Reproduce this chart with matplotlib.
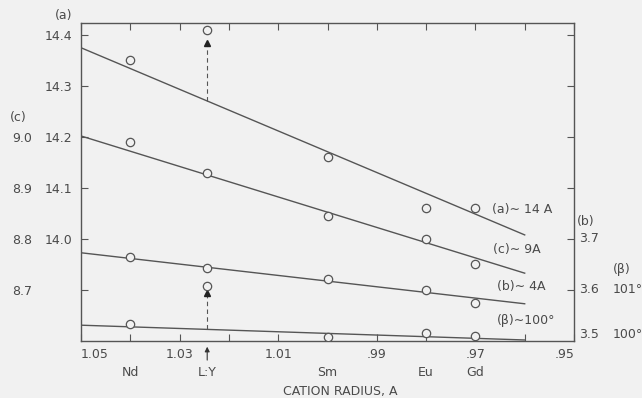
import numpy as np
import matplotlib
matplotlib.use("Agg")
import matplotlib.pyplot as plt
import matplotlib.transforms as mtransforms

# ---------------- data ----------------
elements = ["Nd", "L:Y", "Sm", "Eu", "Gd"]
radius = [1.04, 1.0244, 1.00, 0.98, 0.97]
a_vals = [14.35, 14.41, 14.16, 14.06, 14.06]
c_vals = [8.99, 8.93, 8.845, 8.80, 8.75]
b_vals = [3.665, 3.643, 3.622, 3.600, 3.575]
b_ly_extra = 3.608
beta_radius = [1.04, 1.00, 0.98, 0.97]
beta_vals = [100.33, 100.08, 100.15, 100.10]

line_x = [1.05, 0.96]
a_line = [14.375, 14.008]
c_line = [9.002, 8.733]
b_line = [3.673, 3.573]
beta_line = [100.31, 100.02]

ly_radius = 1.0244
a_arrow = [14.271, 14.385]
b_arrow = [3.523, 3.594]

x_ticks = [1.05, 1.04, 1.03, 1.02, 1.01, 1.00, 0.99, 0.98, 0.97, 0.96, 0.95]
x_labels = {1.05: "1.05", 1.03: "1.03", 1.01: "1.01", 0.99: ".99", 0.97: ".97", 0.95: ".95"}
a_ticks = [13.9, 14.0, 14.1, 14.2, 14.3, 14.4]
a_ticklabels = ["", "14.0", "14.1", "14.2", "14.3", "14.4"]
c_ticks = [8.7, 8.8, 8.9, 9.0]
c_ticklabels = ["8.7", "8.8", "8.9", "9.0"]
b_ticks = [3.6, 3.7, 3.8, 3.9, 4.0, 4.1]
b_labels = [(3.5, "3.5"), (3.6, "3.6"), (3.7, "3.7")]
beta_labels = [(100, "100°"), (101, "101°")]

# ---------------- style ----------------
BG = "#f1f1f1"
LC = "#555555"
TC = "#4a4a4a"
FS = 9
plt.rcParams['font.family'] = ['DejaVu Sans']

fig = plt.figure(figsize=(6.42, 3.98), dpi=100, facecolor=BG)
L, R, B, T = 81 / 642, 574 / 642, 1 - 341 / 398, 1 - 23 / 398
ax = fig.add_axes([L, B, R - L, T - B])
ax.set_facecolor(BG)
ax.set_xlim(1.05, 0.95)
ax.set_ylim(13.8, 14.4235)
for s in ax.spines.values():
    s.set_color(LC)
    s.set_linewidth(1.0)

ax.set_xticks(x_ticks)
ax.set_xticklabels([x_labels.get(round(t, 2), "") for t in x_ticks])
ax.tick_params(axis='x', which='both', direction='in', length=5, top=True,
               color=LC, labelcolor=TC, labelsize=FS, pad=5)
xl = ax.get_xticklabels()
xl[0].set_ha('left')
xl[-1].set_ha('right')
ax.set_yticks(a_ticks)
ax.set_yticklabels(a_ticklabels)
ax.tick_params(axis='y', direction='in', length=5, color=LC, labelcolor=TC,
               labelsize=FS, pad=6)

ax_c = ax.twinx()
ax_c.set_ylim(13.8 - 5.2, 14.4235 - 5.2)
ax_c.yaxis.set_ticks_position('left')
ax_c.spines['left'].set_position(('outward', 34))
for s in ax_c.spines.values():
    s.set_visible(False)
ax_c.set_yticks(c_ticks)
ax_c.set_yticklabels(c_ticklabels)
ax_c.tick_params(axis='y', length=0, labelcolor=TC, labelsize=FS, pad=1)

ax_b = ax.twinx()
ax_b.set_ylim(3.5, 4.1235)
for s in ax_b.spines.values():
    s.set_visible(False)
ax_b.set_yticks(b_ticks)
ax_b.set_yticklabels([])
ax_b.tick_params(axis='y', direction='in', length=5, color=LC)

ax_beta = ax.twinx()
ax_beta.set_ylim(100, 106.235)
ax_beta.set_yticks([])
for s in ax_beta.spines.values():
    s.set_visible(False)

mk = dict(marker='o', ms=6, mfc=BG, mec=LC, mew=0.9, ls='none', zorder=5)
lk = dict(color=LC, lw=1.0)

ax.plot(line_x, a_line, **lk)
ax.plot(radius, a_vals, **mk)
ax_c.plot(line_x, c_line, **lk)
ax_c.plot(radius, c_vals, **mk)
ax_b.plot(line_x, b_line, **lk)
ax_b.plot(radius, b_vals, **mk)
ax_b.plot([ly_radius], [b_ly_extra], **mk)
ax_beta.plot(line_x, beta_line, **lk)
ax_beta.plot(beta_radius, beta_vals, **mk)

# dashed arrows at L:Y
ax.plot([ly_radius, ly_radius], a_arrow, color=LC, lw=0.8, ls=(0, (4, 3)))
ax.plot([ly_radius], [a_arrow[1]], marker='^', ms=4, color='#222222', ls='none')
ax_b.plot([ly_radius, ly_radius], b_arrow, color=LC, lw=0.8, ls=(0, (4, 3)))
ax_b.plot([ly_radius], [b_arrow[1]], marker='^', ms=4, color='#222222', ls='none')

tb = mtransforms.blended_transform_factory(ax.transData, ax.transAxes)
ax.annotate("", xy=(ly_radius, -0.018), xytext=(ly_radius, -0.06),
            xycoords=tb, textcoords=tb, annotation_clip=False,
            arrowprops=dict(arrowstyle='-|>', color='#333333', lw=0.8,
                            mutation_scale=7, shrinkA=0, shrinkB=0))

# element labels
for r, e in zip(radius, elements):
    ax.text(r, -0.10, e, transform=tb, ha='center', va='center',
            fontsize=FS, color=TC, clip_on=False)
fig.text((273 + 407) / 2 / 642, 1 - 391 / 398, "CATION RADIUS, A",
         ha='center', va='center', fontsize=FS, color=TC)

# axis titles
fig.text(72 / 642, 1 - 16 / 398, "(a)", ha='right', va='center', fontsize=FS, color=TC)
fig.text(10 / 642, 1 - 117 / 398, "(c)", ha='left', va='center', fontsize=FS, color=TC)
fig.text(577 / 642, 1 - 221 / 398, "(b)", ha='left', va='center', fontsize=FS, color=TC)
fig.text(613 / 642, 1 - 270 / 398, "(β)", ha='left', va='center', fontsize=FS, color=TC)

tr_b = mtransforms.blended_transform_factory(ax.transAxes, ax_b.transData)
for v, s in b_labels:
    ax_b.text(1.01, v, s, transform=tr_b, ha='left',
              va='bottom' if v == 3.5 else 'center', fontsize=FS, color=TC,
              clip_on=False)
tr_be = mtransforms.blended_transform_factory(ax.transAxes, ax_beta.transData)
for v, s in beta_labels:
    ax_beta.text(1.079, v, s, transform=tr_be, ha='left',
                 va='bottom' if v == 100 else 'center', fontsize=FS, color=TC,
                 clip_on=False)

# series labels
ax.text(0.834, 0.412, "(a)∼ 14 A", transform=ax.transAxes, fontsize=FS, color=TC, va='center')
ax.text(0.836, 0.289, "(c)∼ 9A", transform=ax.transAxes, fontsize=FS, color=TC, va='center')
ax.text(0.844, 0.170, "(b)∼ 4A", transform=ax.transAxes, fontsize=FS, color=TC, va='center')
ax.text(0.844, 0.063, "(β)∼100°", transform=ax.transAxes, fontsize=FS, color=TC, va='center')

fig.savefig("out.png", dpi=100, facecolor=BG)
